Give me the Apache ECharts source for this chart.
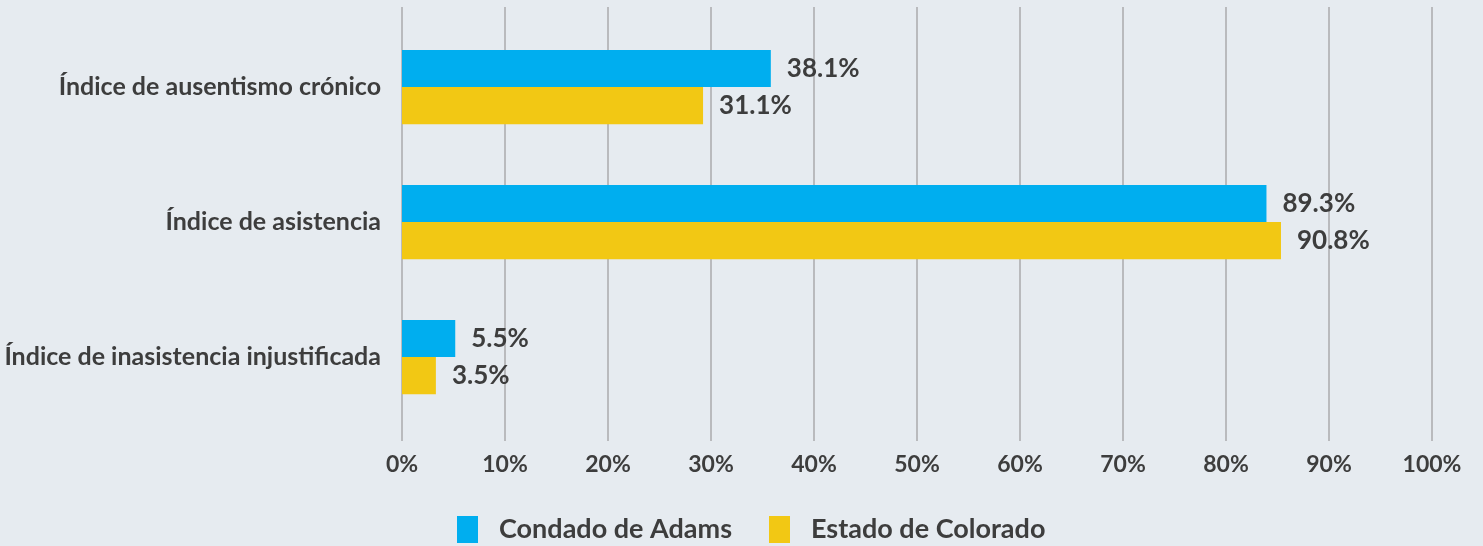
<!DOCTYPE html>
<html>
<head>
<meta charset="utf-8">
<style>
  html, body { margin: 0; padding: 0; background: #e6ebf0; }
  #chart { width: 1483px; height: 546px; }
</style>
<script src="https://cdn.jsdelivr.net/npm/echarts@6/dist/echarts.min.js"></script>
</head>
<body>
<div id="chart"></div>
<script>
// datos
const categories = ['Índice de ausentismo crónico', 'Índice de asistencia', 'Índice de inasistencia injustificada']
const seriesNames = ['Condado de Adams', 'Estado de Colorado']
const adams = [38.1, 89.3, 5.5]
const colorado = [31.1, 90.8, 3.5]
const ticks = [0, 10, 20, 30, 40, 50, 60, 70, 80, 90, 100]

// en el original las barras se dibujan a ~94% de su valor
const barScaleMax = 106.4

const FONT = 'Lato, "Open Sans", sans-serif'
const WEIGHT = 'bold'
const TEXT = '#3d3d3d'

const chart = echarts.init(document.getElementById('chart'))

function barSeries(name, data, color) {
  return {
    name, type: 'bar', data,
    xAxisIndex: 1, yAxisIndex: 1,
    barCategoryGap: '45%', barGap: '0%',
    itemStyle: { color },
    label: {
      show: true, position: 'right', distance: 16,
      formatter: p => p.value.toFixed(1) + '%',
      fontFamily: FONT, fontSize: 26, fontWeight: WEIGHT, color: TEXT
    }
  }
}

chart.setOption({
  backgroundColor: '#e6ebf0',
  animation: false,
  grid: [
    { left: 402, right: 51, top: 7, bottom: 105, outerBoundsMode: 'none' },      // rejilla con líneas
    { left: 402, right: 51, top: 19.5, bottom: 121.5, outerBoundsMode: 'none' }  // barras
  ],
  xAxis: [
    {
      gridIndex: 0, type: 'value', min: ticks[0], max: ticks[ticks.length - 1], interval: 10,
      axisLine: { show: false }, axisTick: { show: false },
      splitLine: { show: true, lineStyle: { color: '#b9babd', width: 2 } },
      axisLabel: {
        formatter: '{value}%', margin: 12,
        fontFamily: FONT, fontSize: 23, fontWeight: WEIGHT, color: TEXT
      }
    },
    {
      gridIndex: 1, type: 'value', min: 0, max: barScaleMax, show: false,
      splitLine: { show: false }
    }
  ],
  yAxis: [
    { gridIndex: 0, type: 'category', data: categories, show: false },
    {
      gridIndex: 1, type: 'category', data: categories, inverse: true,
      axisLine: { show: false }, axisTick: { show: false },
      axisLabel: {
        margin: 21, fontFamily: FONT, fontSize: 25, fontWeight: WEIGHT, color: TEXT
      }
    }
  ],
  legend: {
    data: seriesNames, left: 452, top: 511,
    icon: 'rect', itemWidth: 21, itemHeight: 27, itemGap: 37,
    textStyle: {
      fontFamily: FONT, fontSize: 27, fontWeight: WEIGHT, color: TEXT,
      padding: [0, 0, 0, 16]
    }
  },
  series: [
    barSeries(seriesNames[0], adams, '#00aeef'),
    barSeries(seriesNames[1], colorado, '#f2c814')
  ]
})
</script>
</body>
</html>
